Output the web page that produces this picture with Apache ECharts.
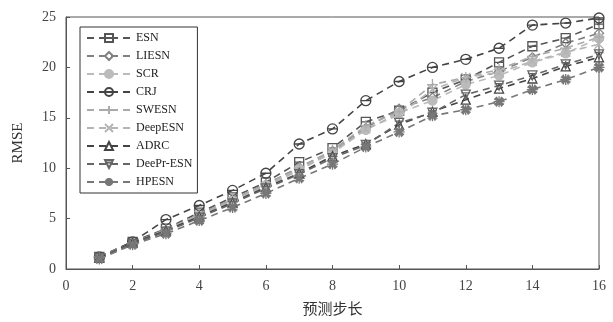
<!DOCTYPE html>
<html><head><meta charset="utf-8">
<script src="https://cdn.jsdelivr.net/npm/echarts@6/dist/echarts.min.js"></script>
<style>html,body{margin:0;padding:0;background:#fff}#c{width:613px;height:322px}</style>
</head><body><div id="c"></div>
<script>
const steps = [1,2,3,4,5,6,7,8,9,10,11,12,13,14,15,16];
const seriesNames = ['ESN','LIESN','SCR','CRJ','SWESN','DeepESN','ADRC','DeePr-ESN','HPESN'];
const ESN     = [1.2, 2.7, 4.0, 5.6, 7.1, 8.6, 10.6, 12.0, 14.6, 15.7, 17.5, 18.8, 20.5, 22.1, 22.9, 24.3];
const LIESN   = [1.1, 2.6, 3.9, 5.4, 6.9, 8.4, 10.1, 11.7, 14.0, 15.9, 17.0, 18.6, 19.6, 21.0, 22.4, 23.4];
const SCR     = [1.1, 2.6, 3.8, 5.3, 6.8, 8.3, 9.9, 11.5, 13.8, 15.5, 16.7, 18.3, 19.2, 20.5, 21.4, 22.9];
const CRJ     = [1.2, 2.7, 4.9, 6.3, 7.8, 9.5, 12.4, 13.9, 16.7, 18.6, 20.0, 20.8, 21.9, 24.2, 24.4, 24.9];
const SWESN   = [1.2, 2.6, 3.9, 5.4, 6.9, 8.4, 10.0, 11.8, 14.2, 15.6, 18.3, 19.0, 19.8, 21.1, 21.9, 23.0];
const DeepESN = [1.1, 2.5, 3.8, 5.3, 6.7, 8.2, 9.8, 11.6, 13.9, 15.3, 17.8, 19.0, 19.5, 20.6, 21.5, 22.3];
const ADRC    = [1.1, 2.6, 3.8, 5.2, 6.6, 8.1, 9.5, 11.2, 12.4, 14.3, 15.6, 16.8, 17.9, 18.9, 20.1, 21.0];
const DeePrESN= [1.1, 2.5, 3.7, 5.1, 6.5, 8.0, 9.4, 11.0, 12.3, 14.5, 15.5, 17.3, 18.2, 19.2, 20.3, 21.3];
const HPESN   = [1.0, 2.4, 3.5, 4.8, 6.1, 7.5, 9.0, 10.4, 12.1, 13.6, 15.2, 15.8, 16.6, 17.8, 18.8, 20.0];
const values = [ESN, LIESN, SCR, CRJ, SWESN, DeepESN, ADRC, DeePrESN, HPESN];

const colors = ['#555555','#808080','#bbbbbb','#444444','#aaaaaa','#b5b5b5','#444444','#666666','#777777'];
const symbols = [
  'path://M0,0L10,0L10,10L0,10ZM0,5L10,5',
  'diamond',
  'circle',
  'path://M0,5A5,5,0,1,1,10,5A5,5,0,1,1,0,5ZM0,5L10,5',
  'path://M5,0L5,10M0,5L10,5',
  'path://M0,0L10,10M0,10L10,0',
  'triangle',
  'path://M0,0L10,0L5,10ZM0,3L10,3',
  'path://M5,0L5,10M0,5L10,5M1.5,1.5L8.5,8.5M1.5,8.5L8.5,1.5M2.5,0.5L7.5,9.5M7.5,0.5L2.5,9.5M0.5,2.5L9.5,7.5M0.5,7.5L9.5,2.5'
];
const filled = [false,false,true,false,false,false,false,false,false];
const sizes = [9,9,9,10,11,9,9,9,11];

const chart = echarts.init(document.getElementById('c'));
const serif = '"Liberation Serif","DejaVu Serif",serif';
chart.setOption({
  animation: false,
  grid: {left: 66, right: 14, top: 17, bottom: 53, show: true, borderColor: '#555', borderWidth: 1},
  legend: {
    orient: 'vertical', left: 80, top: 27,
    itemWidth: 44, itemHeight: 10, itemGap: 6,
    borderColor: '#333', borderWidth: 1, padding: [5, 5, 5, 6],
    textStyle: {fontFamily: serif, fontSize: 12, color: '#222'},
    data: seriesNames
  },
  xAxis: {
    type: 'value', min: 0, max: 16, interval: 2,
    name: '预测步长', nameLocation: 'middle', nameGap: 32,
    nameTextStyle: {fontFamily: '"Noto Sans CJK SC",' + serif, fontSize: 15, color: '#333'},
    axisLine: {lineStyle: {color: '#555'}},
    axisTick: {inside: true, length: 4, lineStyle: {color: '#555'}},
    axisLabel: {fontFamily: serif, fontSize: 14, color: '#444', margin: 10},
    splitLine: {show: false}
  },
  yAxis: {
    type: 'value', min: 0, max: 25, interval: 5,
    name: 'RMSE', nameLocation: 'middle', nameGap: 40,
    nameTextStyle: {fontFamily: serif, fontSize: 15, color: '#333'},
    axisLine: {show: true, lineStyle: {color: '#555'}},
    axisTick: {show: true, inside: true, length: 4, lineStyle: {color: '#555'}},
    axisLabel: {fontFamily: serif, fontSize: 14, color: '#444', margin: 10},
    splitLine: {show: false}
  },
  series: seriesNames.map((n, i) => ({
    name: n, type: 'line',
    data: steps.map((s, k) => [s, values[i][k]]),
    symbol: symbols[i], symbolSize: sizes[i],
    showAllSymbol: true,
    lineStyle: {color: colors[i], width: 1.6, type: [7, 5]},
    itemStyle: {color: filled[i] ? colors[i] : 'rgba(255,255,255,0)', borderColor: colors[i], borderWidth: 1.3}
  }))
});
</script></body></html>
